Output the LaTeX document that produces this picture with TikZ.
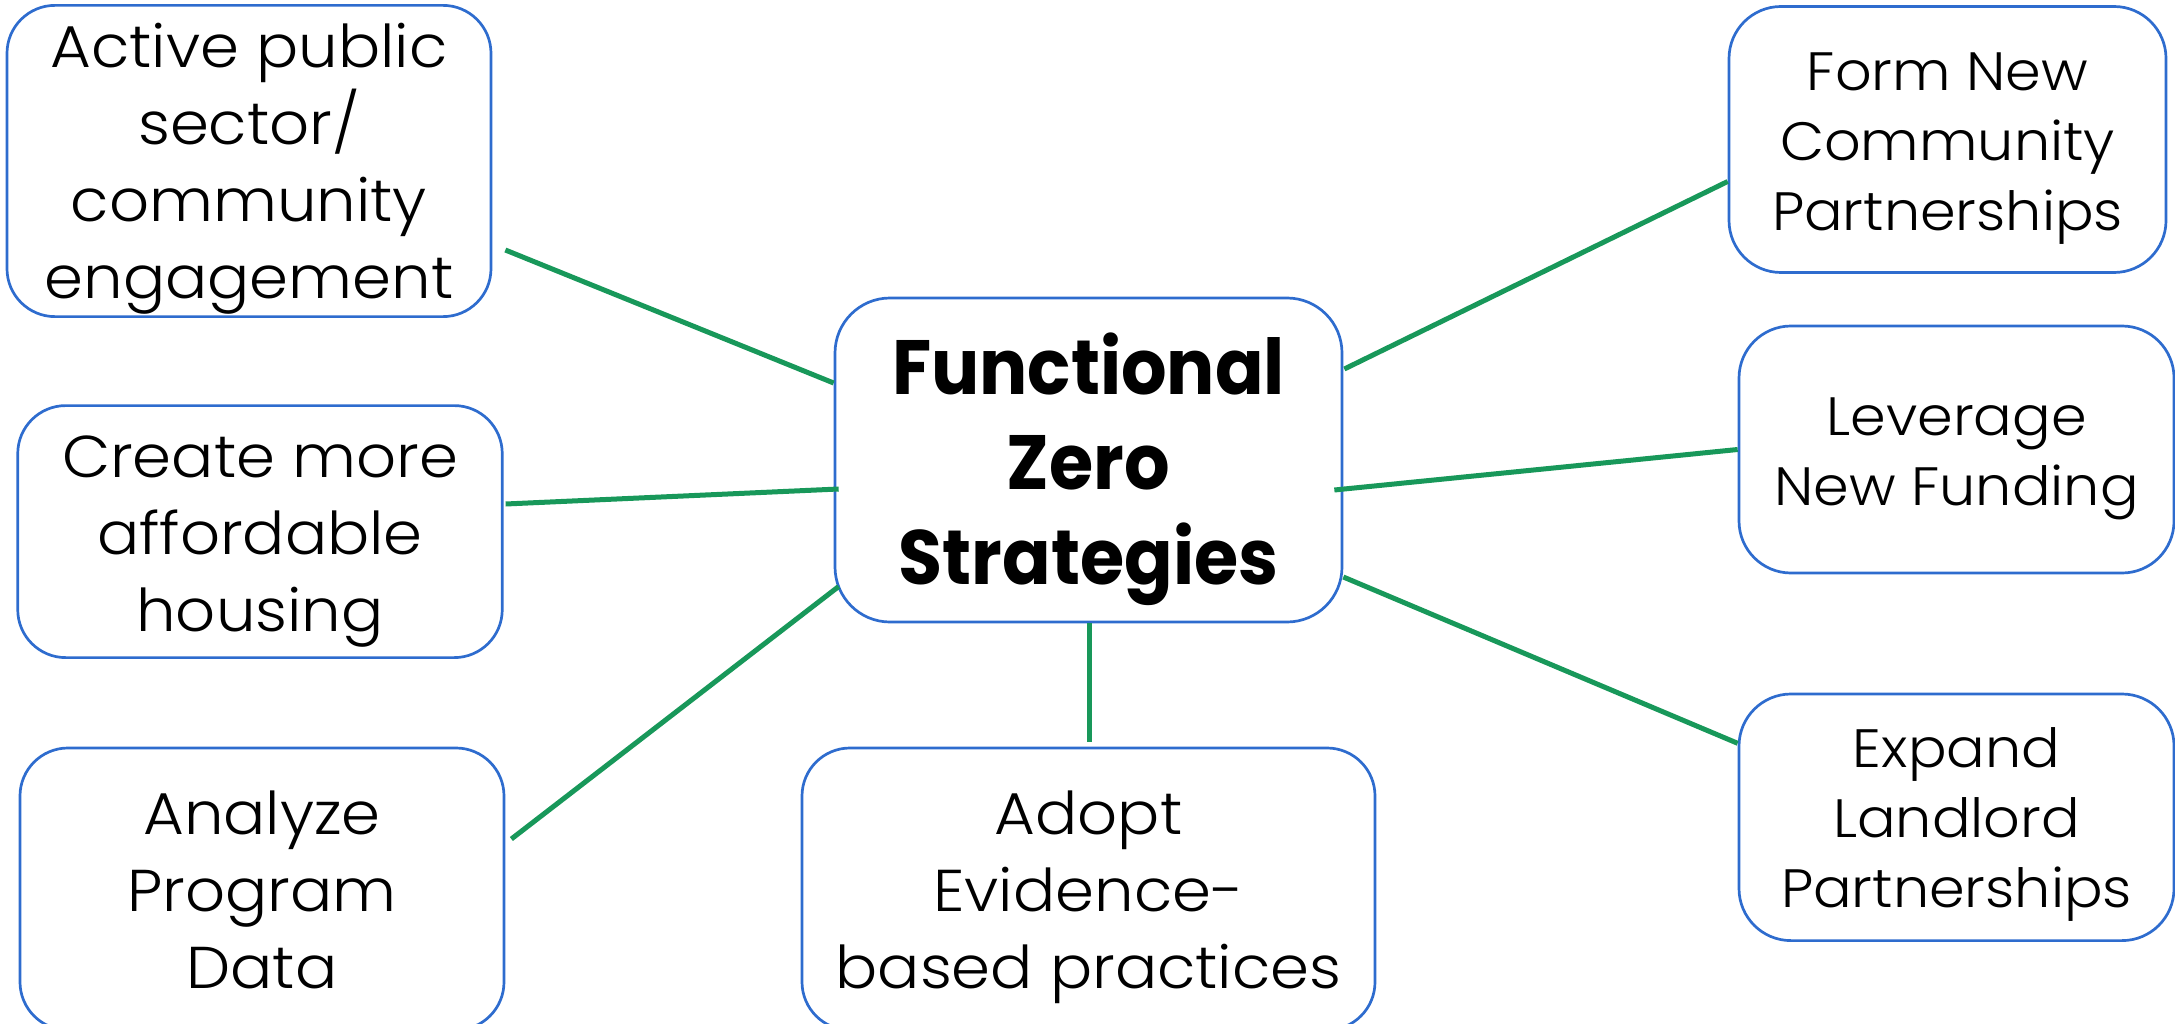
\documentclass[tikz,border=0pt]{standalone}
\usepackage{fontspec}
\setmainfont{Poppins}[UprightFont=* Light, FakeStretch=1.06]
\newfontfamily\hubfont{Poppins}[FakeStretch=0.93]
\usetikzlibrary{calc}
\definecolor{boxblue}{RGB}{46,108,206}
\definecolor{linkgreen}{RGB}{24,152,90}
\newcommand\tstrut{\rule{0pt}{1.06em}}
\newcommand\bstrut{\rule[-0.3em]{0pt}{0.3em}}
\begin{document}
\begin{tikzpicture}[x=1pt,y=-1pt,
  box/.style={draw=boxblue, line width=2.7pt, rounded corners=48pt, align=center,
    inner sep=0pt, font=\fontsize{59}{77}\selectfont},
  rbox/.style={box, rounded corners=52pt, font=\fontsize{54}{70}\selectfont},
  hub/.style={box, rounded corners=55pt, font=\fontsize{77}{95}\selectfont\hubfont\bfseries},
  link/.style={draw=linkgreen, line width=5pt}]
\useasboundingbox (0,0) rectangle (2175,1024);
\node[hub, minimum width=507pt, minimum height=324pt] (Z) at (1088.5,460) {\tstrut Functional\\Zero\\Strategies\bstrut};
\node[box, minimum width=484pt, minimum height=309pt] (A) at (249,161) {\tstrut Active public\\sector/\\community\\engagement\bstrut};
\node[box, minimum width=484.5pt, minimum height=252pt] (B) at (260,531.6) {\tstrut Create more\\affordable\\housing\bstrut};
\node[box, minimum width=484pt, minimum height=282pt] (C) at (262,889) {\tstrut Analyze\\Program\\Data\bstrut};
\node[box, minimum width=573pt, minimum height=282pt] (D) at (1088.5,889) {\tstrut Adopt\\Evidence-\\based practices\bstrut};
\node[rbox, minimum width=437pt, minimum height=266pt] (E) at (1947.5,139.5) {\tstrut Form New\\Community\\Partnerships\bstrut};
\node[rbox, minimum width=435pt, minimum height=247pt] (F) at (1956.5,449.5) {\tstrut Leverage\\New Funding\bstrut};
\node[rbox, minimum width=435pt, minimum height=246.6pt] (G) at (1956.5,817.3) {\tstrut Expand\\Landlord\\Partnerships\bstrut};
\draw[link] ($(A.east)+(13,89)$) -- ($(Z.west)+(0,-77)$);
\draw[link] ($(B.east)+(2,-27.6)$) -- ($(Z.west)+(5,29)$);
\draw[link] ($(C.east)+(6,-50)$) -- ($(Z.west)+(5,126.5)$);
\draw[link] ($(Z.south)+(0.5,0)$) -- ($(D.north)+(0.5,-5)$);
\draw[link] ($(Z.east)+(1,-91)$) -- ($(E.west)+(0,42)$);
\draw[link] ($(Z.east)+(-9,30)$) -- (F.west);
\draw[link] ($(Z.east)+(0,117)$) -- ($(G.west)+(0,-74)$);
\end{tikzpicture}
\end{document}
